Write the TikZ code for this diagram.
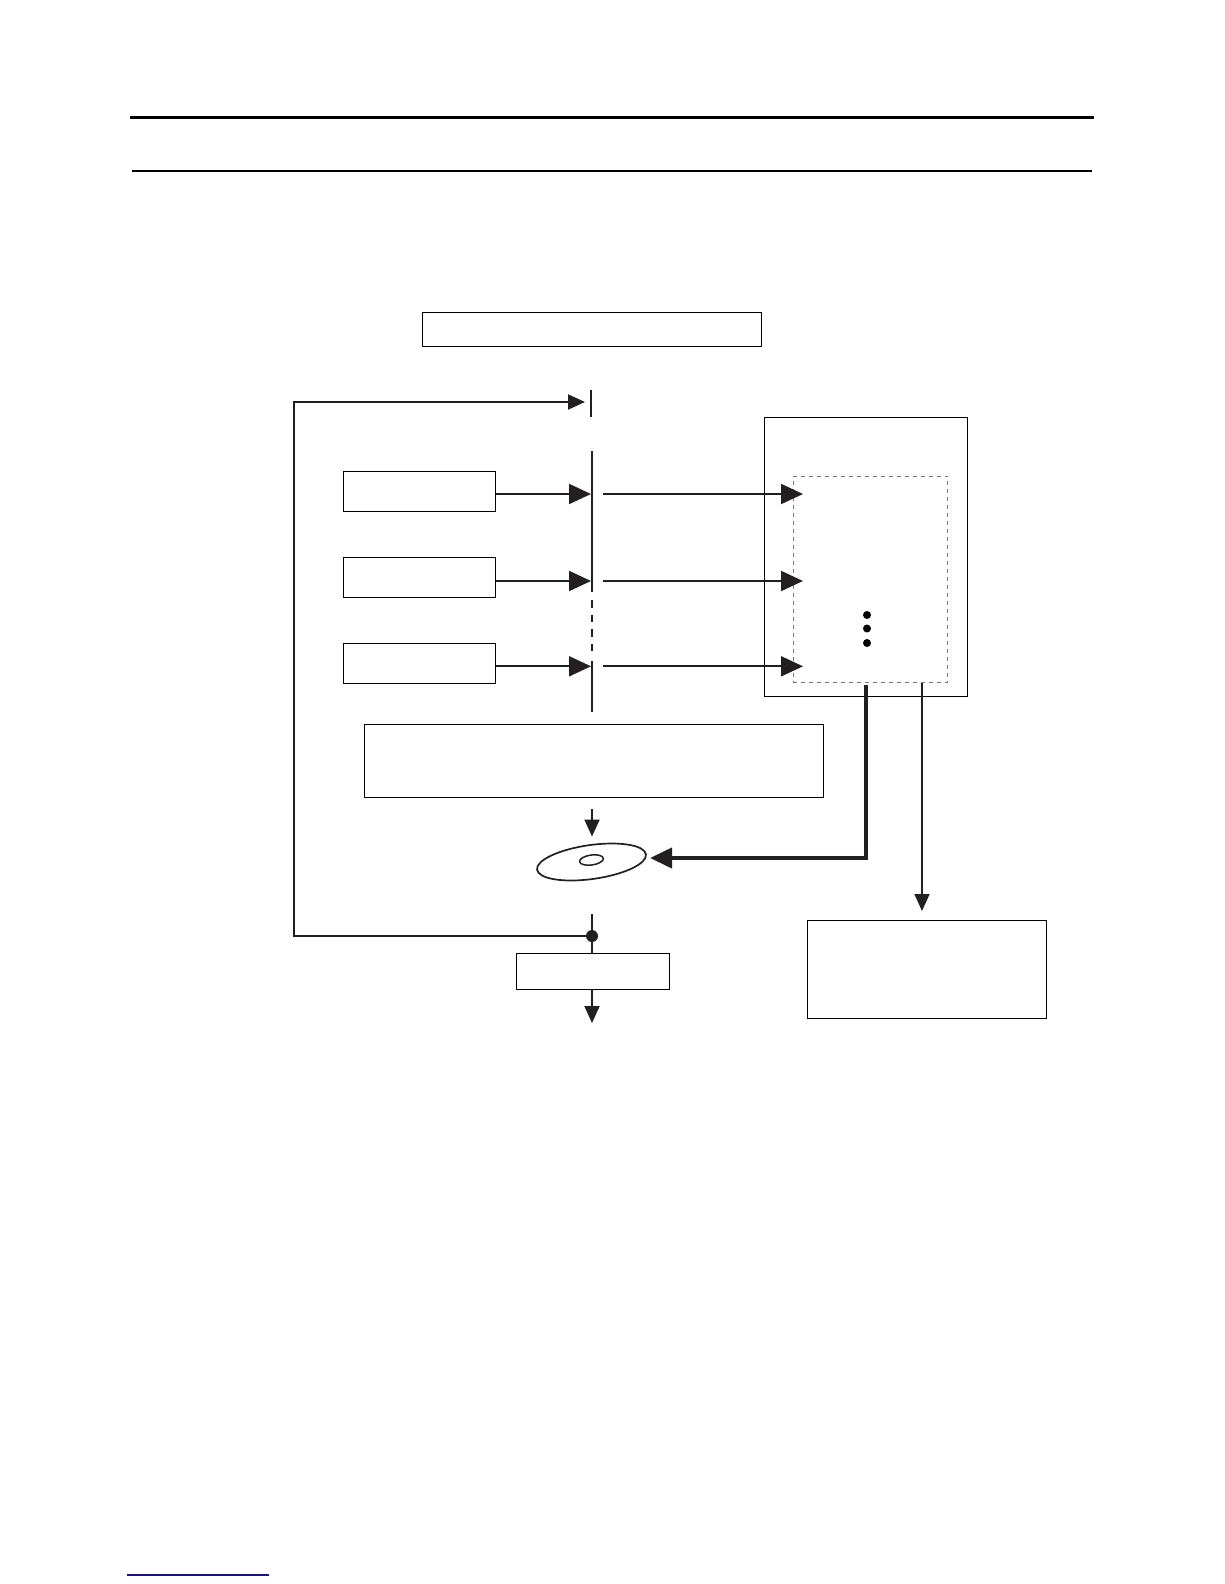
\documentclass[tikz,border=0pt]{standalone}
\usetikzlibrary{arrows.meta,shapes.geometric}
\definecolor{arrowInk}{HTML}{231F20}
\definecolor{dashGray}{HTML}{777777}
\definecolor{linkBlue}{HTML}{14148C}
\begin{document}
\begin{tikzpicture}[x=1pt,y=-1pt,line join=miter]
\useasboundingbox[fill=white] (0,0) rectangle (1224,1584);
\tikzset{blockbox/.style={draw=black,fill=white,line width=0.9pt,rectangle,anchor=north west,inner sep=0pt,outer sep=0pt},
wire/.style={draw=arrowInk,line width=2pt},
thinwire/.style={draw=arrowInk,line width=1.6pt},
bigtip/.style={-{Triangle[length=22pt,width=20pt]}},
smalltip/.style={-{Triangle[length=17pt,width=15pt]}},
thinbar/.style={draw=arrowInk,line width=1.9pt}}
% page rules
\coordinate (ruleAa) at (130,117.8); \coordinate (ruleAb) at (1094,117.8);
\coordinate (ruleBa) at (132,170.8); \coordinate (ruleBb) at (1092,170.8);
\draw[black,line width=3pt] (ruleAa) -- (ruleAb);
\draw[black,line width=2pt] (ruleBa) -- (ruleBb);
% blocks
\node[blockbox,minimum width=339pt,minimum height=34pt] (titlebox) at (422.5,312.5) {};
\node[blockbox,minimum width=152pt,minimum height=40pt] (srcA) at (343.5,471.5) {};
\node[blockbox,minimum width=152pt,minimum height=40pt] (srcB) at (343.5,557.5) {};
\node[blockbox,minimum width=152pt,minimum height=40pt] (srcC) at (343.5,643.5) {};
\node[blockbox,minimum width=203pt,minimum height=279pt] (outerbox) at (764.5,417.5) {};
\node[draw=dashGray,dash pattern=on 4pt off 4pt,line width=0.8pt,rectangle,anchor=north west,minimum width=154.5pt,minimum height=206.5pt,inner sep=0pt,outer sep=0pt] (innerbox) at (793,476) {};
\node[blockbox,minimum width=459pt,minimum height=73pt] (widebox) at (364.5,724.5) {};
\node[blockbox,minimum width=153pt,minimum height=36pt] (lowbox) at (516.5,953.5) {};
\node[blockbox,minimum width=239pt,minimum height=98pt] (resultbox) at (807.5,920.5) {};
% disc
\node[draw=arrowInk,line width=1.7pt,ellipse,rotate=8,minimum width=110pt,minimum height=34pt,inner sep=0pt] (disc) at (591.5,862) {};
\node[draw=arrowInk,line width=1.5pt,ellipse,rotate=8,minimum width=24pt,minimum height=10pt,inner sep=0pt] (dischole) at (591.5,860) {};
% bars
\coordinate (barTopa) at (591,390); \coordinate (barTopb) at (591,417);
\coordinate (barMaina) at (592,451); \coordinate (barMainb) at (592,592);
\coordinate (barDasha) at (592,600); \coordinate (barDashb) at (592,652);
\coordinate (barLowa) at (592,661); \coordinate (barLowb) at (592,712);
\draw[thinbar] (barTopa) -- (barTopb);
\draw[thinbar] (barMaina) -- (barMainb);
\draw[thinbar,dash pattern=on 7.5pt off 7pt] (barDasha) -- (barDashb);
\draw[thinbar] (barLowa) -- (barLowb);
% arrows into and past the bar
\coordinate (tipA) at (591,494); \coordinate (tipB) at (591,581); \coordinate (tipC) at (591,666.3);
\coordinate (outA) at (603,494); \coordinate (outB) at (603,581); \coordinate (outC) at (603,666.3);
\coordinate (endA) at (803,494); \coordinate (endB) at (803,581); \coordinate (endC) at (803,666.3);
\draw[wire,bigtip,arrowInk] (srcA.east |- tipA) -- (tipA);
\draw[wire,bigtip,arrowInk] (srcB.east |- tipB) -- (tipB);
\draw[wire,bigtip,arrowInk] (srcC.east |- tipC) -- (tipC);
\draw[wire,bigtip,arrowInk] (outA) -- (endA);
\draw[wire,bigtip,arrowInk] (outB) -- (endB);
\draw[wire,bigtip,arrowInk] (outC) -- (endC);
% feedback path
\node[circle,fill=arrowInk,minimum size=12pt,inner sep=0pt] (junction) at (592,936) {};
\coordinate (stubtop) at (592,914);
\coordinate (fbcorner) at (294,936); \coordinate (fbtop) at (294,402); \coordinate (fbtip) at (585,402);
\draw[wire,arrowInk,-{Triangle[length=17pt,width=15pt]}] (junction.center) -- (fbcorner) -- (fbtop) -- (fbtip);
\draw[wire,arrowInk] (stubtop) -- (junction.center) -- (lowbox.north -| junction);
% vertical arrows around the disc
\coordinate (shortA) at (592,809); \coordinate (shortB) at (592,836.5); \coordinate (outtip) at (592,1023);
\draw[wire,arrowInk,smalltip] (shortA) -- (shortB);
\draw[wire,arrowInk,smalltip] (lowbox.south -| outtip) -- (outtip);
% recording path
\coordinate (thicka) at (866,685); \coordinate (thickb) at (866,858); \coordinate (disctip) at (650,858);
\draw[draw=arrowInk,line width=4pt,-{Triangle[length=22pt,width=20pt]}] (thicka) -- (thickb) -- (disctip);
\coordinate (thina) at (922,683); \coordinate (thinb) at (922,911);
\draw[thinwire,-{Triangle[length=17pt,width=15pt]},arrowInk] (thina) -- (thinb);
% dots
\foreach \dy in {615,628.5,643} \fill[black] (867,\dy) circle (4);
% footer link
\coordinate (linka) at (127,1575); \coordinate (linkb) at (269,1575);
\draw[linkBlue,line width=1.2pt] (linka) -- (linkb);
\end{tikzpicture}
\end{document}
